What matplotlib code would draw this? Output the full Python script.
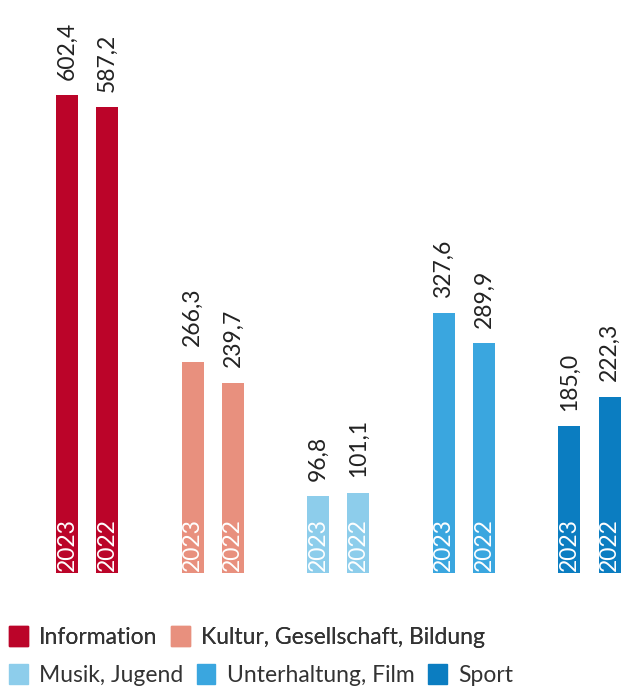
import matplotlib
matplotlib.use("Agg")
import matplotlib.pyplot as plt
from matplotlib.patches import Patch
import numpy as np

# Daten (Stunden), je Genre 2023 und 2022
genres = ["Information", "Kultur, Gesellschaft, Bildung", "Musik, Jugend",
          "Unterhaltung, Film", "Sport"]
werte_2023 = [602.4, 266.3, 96.8, 327.6, 185.0]
werte_2022 = [587.2, 239.7, 101.1, 289.9, 222.3]
jahre = ["2023", "2022"]
farben = ["#bb0429", "#e8907e", "#8dcdeb", "#3aa6df", "#0b7dc1"]

plt.rcParams['font.family'] = ['Lato', 'DejaVu Sans']

fig = plt.figure(figsize=(6.21, 6.87), dpi=100)
ax = fig.add_axes([0, 114 / 687, 1, 573 / 687])

x = np.arange(len(genres))
breite = 0.175
versatz = 0.16

for i, g in enumerate(genres):
    for j, (werte, jahr) in enumerate(zip([werte_2023, werte_2022], jahre)):
        xpos = x[i] + (-versatz if j == 0 else versatz)
        ax.bar(xpos, werte[i], width=breite, color=farben[i], linewidth=0)
        # Jahr im Balken
        ax.annotate(jahr, (xpos, 0), xytext=(0, 1.5), textcoords="offset points",
                    rotation=90, ha="center", va="bottom", color="white",
                    fontsize=16.5)
        # Wert ueber dem Balken
        ax.annotate(f"{werte[i]:.1f}".replace(".", ","), (xpos, werte[i]),
                    xytext=(0, 11), textcoords="offset points",
                    rotation=90, ha="center", va="bottom", color="#222222",
                    fontsize=16.5)

ax.set_xlim(-0.693, 4.25)
ax.set_ylim(0, 722)
ax.axis("off")

handles = [Patch(color=c, label=g) for c, g in zip(farben, genres)]
leg_kw = dict(frameon=False, fontsize=16.5, handlelength=0.8, handleheight=1.0,
              handletextpad=0.5, columnspacing=0.6, borderaxespad=0,
              labelcolor="#333333")
leg1 = fig.legend(handles=handles[:2], ncol=2, loc="center left",
                  bbox_to_anchor=(0.0, 50 / 687), **leg_kw)
fig.add_artist(leg1)
fig.legend(handles=handles[2:], ncol=3, loc="center left",
           bbox_to_anchor=(0.0, 12 / 687), **leg_kw)

fig.savefig("out.png", dpi=100)
